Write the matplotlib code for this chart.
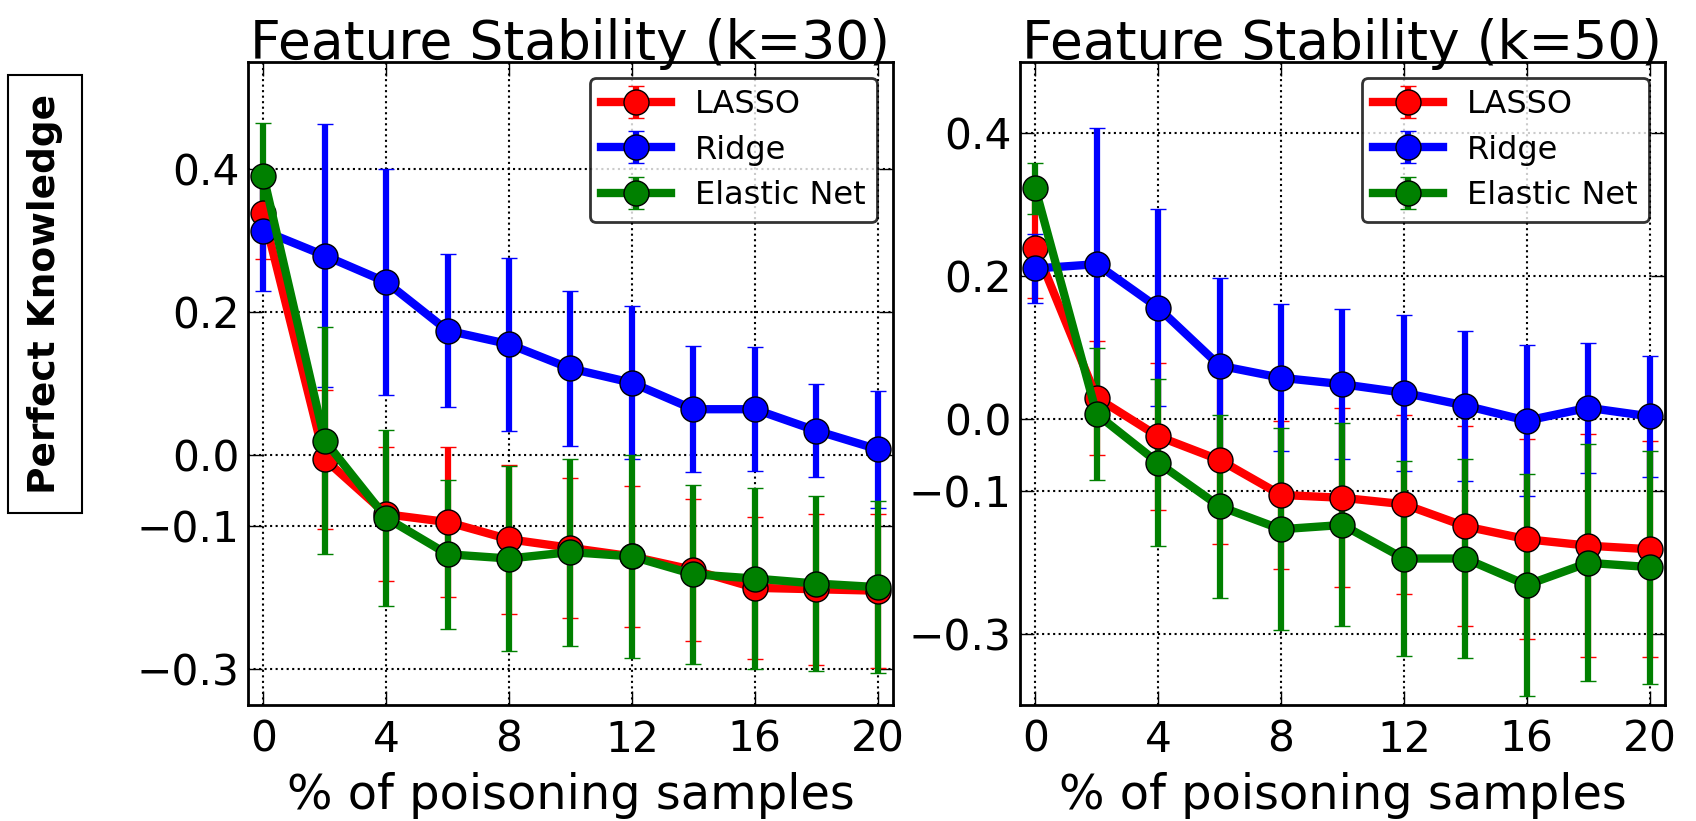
import matplotlib
matplotlib.use("Agg")
import matplotlib.pyplot as plt

# x: % of poisoning samples
pct = [0, 2, 4, 6, 8, 10, 12, 14, 16, 18, 20]
methods = ["LASSO", "Ridge", "Elastic Net"]
colors = ["red", "blue", "green"]

# k=30
lasso_30 = [0.338, -0.006, -0.083, -0.094, -0.118, -0.130, -0.142, -0.161, -0.186, -0.188, -0.190]
lasso_30_err = [0.064, 0.097, 0.094, 0.105, 0.104, 0.098, 0.099, 0.100, 0.099, 0.106, 0.108]
ridge_30 = [0.314, 0.279, 0.242, 0.174, 0.155, 0.121, 0.101, 0.064, 0.064, 0.034, 0.008]
ridge_30_err = [0.085, 0.184, 0.158, 0.107, 0.121, 0.108, 0.107, 0.088, 0.087, 0.065, 0.082]
enet_30 = [0.391, 0.020, -0.088, -0.139, -0.145, -0.136, -0.142, -0.167, -0.173, -0.180, -0.185]
enet_30_err = [0.074, 0.159, 0.123, 0.104, 0.130, 0.131, 0.142, 0.125, 0.127, 0.122, 0.120]

# k=50
lasso_50 = [0.240, 0.030, -0.024, -0.057, -0.106, -0.110, -0.119, -0.150, -0.168, -0.177, -0.182]
lasso_50_err = [0.071, 0.080, 0.103, 0.118, 0.104, 0.125, 0.125, 0.140, 0.140, 0.156, 0.151]
ridge_50 = [0.211, 0.217, 0.156, 0.075, 0.058, 0.049, 0.037, 0.019, -0.002, 0.016, 0.004]
ridge_50_err = [0.048, 0.190, 0.138, 0.122, 0.103, 0.105, 0.109, 0.105, 0.106, 0.091, 0.085]
enet_50 = [0.323, 0.007, -0.061, -0.122, -0.154, -0.148, -0.195, -0.195, -0.232, -0.201, -0.207]
enet_50_err = [0.036, 0.092, 0.117, 0.128, 0.141, 0.142, 0.137, 0.139, 0.155, 0.166, 0.163]

panels = [
    ("Feature Stability (k=30)", [lasso_30, ridge_30, enet_30],
     [lasso_30_err, ridge_30_err, enet_30_err], (-0.35, 0.55)),
    ("Feature Stability (k=50)", [lasso_50, ridge_50, enet_50],
     [lasso_50_err, ridge_50_err, enet_50_err], (-0.4, 0.5)),
]
xticks = [0, 4, 8, 12, 16, 20]
yticks = [0.4, 0.2, 0.0, -0.1, -0.3]

fig = plt.figure(figsize=(16.96, 8.21), dpi=100)
lefts = [0.1462, 0.6014]

for left, (title, series, errs, ylim) in zip(lefts, panels):
    ax = fig.add_axes([left, 0.1413, 0.3803, 0.7832])
    for name, c, y, e in zip(methods, colors, series, errs):
        ax.errorbar(pct, y, yerr=e, color=c, lw=6, elinewidth=4.5,
                    capsize=6, capthick=1.5, marker="o", markersize=18,
                    markerfacecolor=c, markeredgecolor="black",
                    markeredgewidth=1, label=name)
    ax.set_xlim(-0.5, 20.5)
    ax.set_ylim(*ylim)
    ax.set_xticks(xticks)
    ax.set_yticks(yticks)
    ax.grid(True, color="black", linestyle=":", linewidth=1.5)
    ax.tick_params(direction="in", length=10, width=1, labelsize=30.5,
                   top=True, right=True)
    ax.tick_params(axis="x", pad=10)
    ax.tick_params(axis="y", pad=6)
    for s in ax.spines.values():
        s.set_linewidth(2)
    ax.set_title(title, fontsize=38.5, pad=2)
    ax.set_xlabel("% of poisoning samples", fontsize=34.5, labelpad=8)
    leg = ax.legend(loc="upper right", fontsize=23, numpoints=1,
                    handlelength=2.2, handletextpad=0.75, labelspacing=0.45,
                    borderpad=0.35, borderaxespad=0.5, fancybox=True)
    leg.get_frame().set_edgecolor("black")
    leg.get_frame().set_linewidth(2)

fig.text(0.0265, 0.642, "Perfect Knowledge", rotation=90, fontsize=27,
         fontweight="bold", ha="center", va="center",
         bbox=dict(boxstyle="square,pad=0.5", facecolor="white",
                   edgecolor="black", linewidth=1.5))

fig.savefig("out.png", dpi=100, facecolor="white")
